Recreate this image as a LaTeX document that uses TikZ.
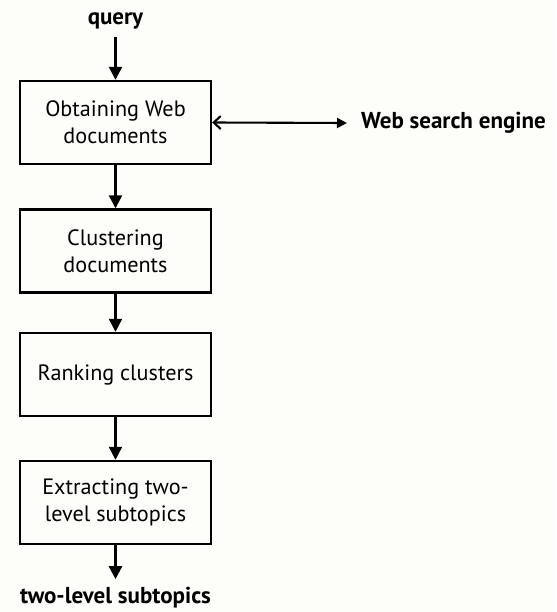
\documentclass[tikz,border=0pt]{standalone}
\usepackage{fontspec}
\setmainfont{PT Sans}
\usetikzlibrary{arrows.meta}
\definecolor{paper}{RGB}{253,253,250}
\tikzset{
    stage/.style={draw, line width=2.4pt, minimum width=191pt, minimum height=83pt,
        align=center, font=\fontsize{22.2}{27}\selectfont, inner sep=0pt},
    label/.style={font=\fontsize{23}{26}\selectfont\bfseries, inner sep=0pt},
    flow/.style={line width=2.4pt, -{Triangle[length=13pt,width=13pt]}},
}
\begin{document}
\begin{tikzpicture}[x=1pt, y=-1pt]
    \fill[paper] (0, 0) rectangle (556, 612);
    \useasboundingbox (0, 0) rectangle (556, 612);
    %\draw[lightgray] (0, 0) grid[step=50] (556, 612);
    \node[label] (query) at (115.5, 21) {query};
    \node[stage] (obtain) at (115.5, 122.5) {Obtaining Web\\documents};
    \node[stage] (cluster) at (115.5, 251) {Clustering\\documents};
    \node[stage] (rank) at (115.5, 374.5) {Ranking clusters};
    \node[stage] (extract) at (115.5, 502.5) {Extracting two-\\level subtopics};
    \node[label] (output) at (115.5, 598) {two-level subtopics};
    \node[label, anchor=west] (engine) at (361, 123) {Web search engine};
    \coordinate (engineend) at (347, 123);
    \draw[flow] (query.south) ++(0, 8) -- (obtain.north);
    \draw[flow] (obtain) -- (cluster);
    \draw[flow] (cluster) -- (rank);
    \draw[flow] (rank) -- (extract);
    \draw[flow] (extract.south) -- ++(0, 34);
    \draw[line width=2.1pt, {Straight Barb[length=7pt,width=13pt]}-{Triangle[length=10pt,width=10pt]}]
        (obtain.east) -- (engineend);
\end{tikzpicture}
\end{document}
